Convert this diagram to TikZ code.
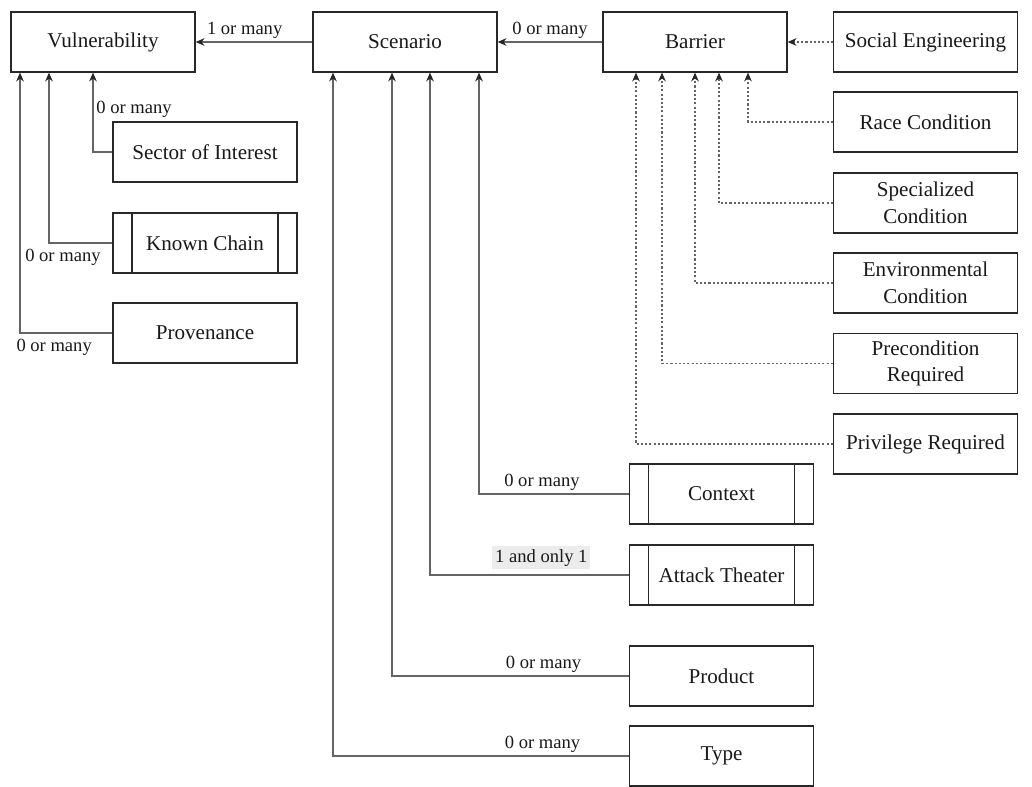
\documentclass[tikz,border=0pt]{standalone}
\usepackage{fontspec}
\setmainfont{Liberation Serif}
\usetikzlibrary{arrows.meta}

\begin{document}
\begin{tikzpicture}[
    x=0.025cm, y=-0.025cm,
    >={Stealth[length=2.2mm,width=1.9mm,color=black!85]},
    every node/.style={font=\fontsize{15}{19}\selectfont, text=black!90},
    box/.style={draw=boxLine, line width=0.9pt, minimum width=4.6cm,
        minimum height=1.5cm, align=center, inner sep=2pt},
    process/.style={box, path picture={
        \draw[boxLine, line width=0.9pt]
            ([xshift=0.475cm]path picture bounding box.north west) --
            ([xshift=0.475cm]path picture bounding box.south west)
            ([xshift=-0.475cm]path picture bounding box.north east) --
            ([xshift=-0.475cm]path picture bounding box.south east);}},
    link/.style={->, draw=linkGray, line width=0.75pt},
    weak/.style={link, dash pattern=on 1.5pt off 1.5pt},
    card/.style={font=\fontsize{13.2}{15}\selectfont, inner sep=2pt},
]

\definecolor{boxLine}{RGB}{40,40,40}
\definecolor{linkGray}{RGB}{100,100,100}
\definecolor{labelBg}{RGB}{236,236,236}

\useasboundingbox (0,0) rectangle (1032,787);

% ============================================================
% TOP ROW
% ============================================================
\node[box] (vuln)    at (103,42)  {Vulnerability};
\node[box] (scen)    at (405,42)  {Scenario};
\node[box] (barrier) at (695,42)  {Barrier};
\node[box] (social)  at (925.5,42) {Social Engineering};

% ============================================================
% VULNERABILITY PARTS
% ============================================================
\node[box]     (sector) at (205,152) {Sector of Interest};
\node[process] (chain)  at (205,243) {Known Chain};
\node[box]     (prov)   at (205,333) {Provenance};

% ============================================================
% BARRIER KINDS
% ============================================================
\node[box] (race)    at (925.5,122)   {Race Condition};
\node[box] (spec)    at (925.5,203)   {Specialized\\Condition};
\node[box] (env)     at (925.5,283)   {Environmental\\Condition};
\node[box] (precond) at (925.5,363.5) {Precondition\\Required};
\node[box] (priv)    at (925.5,444)   {Privilege Required};

% ============================================================
% SCENARIO PARTS
% ============================================================
\node[process] (context) at (721.5,494) {Context};
\node[process] (attack)  at (721.5,575) {Attack Theater};
\node[box]     (product) at (721.5,676) {Product};
\node[box]     (type)    at (721.5,756) {Type};

% --- top row links ---
\draw[link] (scen) -- node[card, above, pos=0.58] {1 or many} (vuln);
\draw[link] (barrier) -- node[card, above] {0 or many} (scen);
\draw[weak] (social) -- (barrier);

% --- into Vulnerability ---
\draw[link] (sector.west) -| node[card, pos=0.77, anchor=west] {0 or many}
    ([xshift=-0.25cm]vuln.south);
\draw[link] (chain.west) -| node[card, pos=0.39, below, yshift=-2pt] {0 or many}
    ([xshift=-1.35cm]vuln.south);
\draw[link] (prov.west) -| node[card, pos=0.315, below, yshift=-2pt] {0 or many}
    ([xshift=-2.075cm]vuln.south);

% --- into Barrier (dotted) ---
\draw[weak] (race.west)    -| ([xshift=1.325cm]barrier.south);
\draw[weak] (spec.west)    -| ([xshift=0.6cm]barrier.south);
\draw[weak] (env.west)     -| (barrier.south);
\draw[weak] (precond.west) -| ([xshift=-0.825cm]barrier.south);
\draw[weak] (priv.west)    -| ([xshift=-1.475cm]barrier.south);

% --- into Scenario ---
\draw[link] (context.west) -| node[card, pos=0.29, above] {0 or many}
    ([xshift=1.85cm]scen.south);
\draw[link] (attack.west) -| node[card, pos=0.22, above=4pt, fill=labelBg] {1 and only 1}
    ([xshift=0.625cm]scen.south);
\draw[link] (product.west) -| node[card, pos=0.18, above] {0 or many}
    ([xshift=-0.325cm]scen.south);
\draw[link] (type.west) -| node[card, pos=0.146, above] {0 or many}
    ([xshift=-1.8cm]scen.south);

\end{tikzpicture}
\end{document}
